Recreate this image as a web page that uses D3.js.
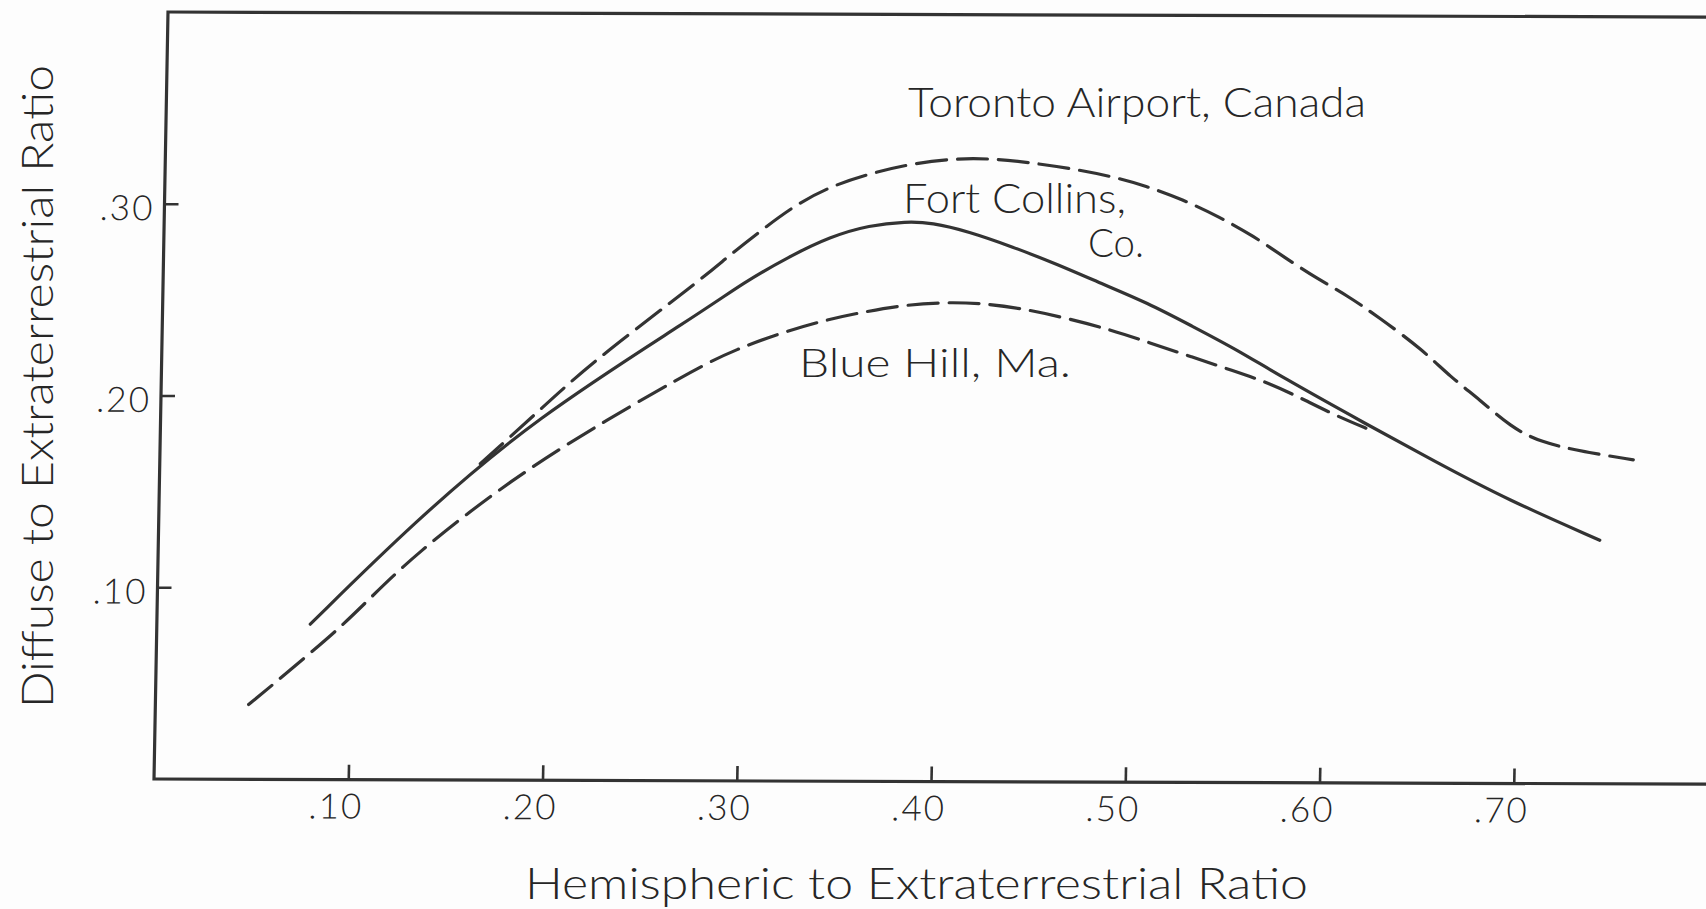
<!DOCTYPE html>
<html>
<head>
<meta charset="utf-8">
<script src="https://cdn.jsdelivr.net/npm/d3@7"></script>
<style>
  html, body { margin: 0; padding: 0; background: #fdfdfd; }
  svg { display: block; }
  text { font-family: Lato, "Open Sans", "DejaVu Sans", sans-serif; font-weight: 300; fill: #262626; }
</style>
</head>
<body>
<svg id="chart" width="1706" height="909"></svg>
<script>
// ---------------- data ----------------
const xTicks = [0.10, 0.20, 0.30, 0.40, 0.50, 0.60, 0.70];
const xTickLabels = [".10", ".20", ".30", ".40", ".50", ".60", ".70"];
const yTicks = [0.10, 0.20, 0.30];
const yTickLabels = [".10", ".20", ".30"];

const seriesNames = ["Toronto Airport, Canada", "Fort Collins, Co.", "Blue Hill, Ma."];

const torontoX = [0.165, 0.192, 0.220, 0.2765, 0.290, 0.306, 0.324, 0.342, 0.363, 0.383, 0.406, 0.425, 0.445, 0.466, 0.487, 0.505, 0.524, 0.543, 0.561, 0.577, 0.594, 0.610, 0.626, 0.649, 0.6635, 0.679, 0.695, 0.7105, 0.733, 0.7585];
const torontoY = [0.165, 0.190, 0.217, 0.261, 0.273, 0.286, 0.300, 0.310, 0.317, 0.322, 0.325, 0.325, 0.323, 0.320, 0.316, 0.311, 0.304, 0.295, 0.285, 0.274, 0.263, 0.254, 0.243, 0.226, 0.212, 0.200, 0.186, 0.178, 0.173, 0.169];

const fortCollinsX = [0.079, 0.131, 0.192, 0.277, 0.299, 0.322, 0.343, 0.363, 0.382, 0.395, 0.414, 0.437, 0.460, 0.483, 0.507, 0.530, 0.553, 0.576, 0.621, 0.656, 0.694, 0.742];
const fortCollinsY = [0.081, 0.134, 0.1885, 0.244, 0.260, 0.2735, 0.284, 0.290, 0.292, 0.2915, 0.287, 0.279, 0.270, 0.260, 0.250, 0.238, 0.226, 0.212, 0.187, 0.168, 0.148, 0.127];

const blueHillX = [0.048, 0.061, 0.077, 0.093, 0.108, 0.1315, 0.181, 0.231, 0.277, 0.2955, 0.318, 0.341, 0.362, 0.382, 0.403, 0.4215, 0.442, 0.465, 0.488, 0.509, 0.530, 0.551, 0.5715, 0.590, 0.604, 0.623];
const blueHillY = [0.039, 0.050, 0.064, 0.078, 0.093, 0.117, 0.157, 0.189, 0.216, 0.225, 0.2335, 0.2405, 0.245, 0.2485, 0.250, 0.2495, 0.247, 0.242, 0.236, 0.229, 0.222, 0.215, 0.208, 0.199, 0.192, 0.184];

// ---------------- layout ----------------
const svg = d3.select("#chart");
const W = 1554, H = 767;
const ink = "#333";

const x = d3.scaleLinear().domain([0, 0.8]).range([0, W]);
const y = d3.scaleLinear().domain([0, 0.4]).range([H, 0]);

// slight skew of the scanned original
const g = svg.append("g").attr("transform", "matrix(1,0.0033,-0.01825,1,168,12)");

// frame
g.append("rect")
  .attr("x", 0).attr("y", 0).attr("width", W).attr("height", H)
  .attr("fill", "none").attr("stroke", ink).attr("stroke-width", 3.2);

// axes
const yAxis = d3.axisLeft(y).tickValues(yTicks).tickSize(-14)
  .tickFormat((d, i) => yTickLabels[i]);
const ya = g.append("g").call(yAxis);
ya.select(".domain").remove();
ya.selectAll(".tick line").attr("stroke", ink).attr("stroke-width", 2.6);
ya.selectAll(".tick text")
  .attr("x", -10).attr("dy", 0).attr("y", 16)
  .attr("text-anchor", "end")
  .style("font-size", "35px").style("letter-spacing", "2px").style("font-weight", 300)
  .style("font-family", "Lato, 'Open Sans', sans-serif").attr("fill", "#262626");

const xAxis = d3.axisBottom(x).tickValues(xTicks).tickSize(-15)
  .tickFormat((d, i) => xTickLabels[i]);
const xa = g.append("g").attr("transform", `translate(0,${H})`).call(xAxis);
xa.select(".domain").remove();
xa.selectAll(".tick line").attr("stroke", ink).attr("stroke-width", 2.6);
xa.selectAll(".tick text")
  .attr("x", 15).attr("dy", 0).attr("y", 39)
  .attr("text-anchor", "end")
  .style("font-size", "35px").style("letter-spacing", "2px").style("font-weight", 300)
  .style("font-family", "Lato, 'Open Sans', sans-serif").attr("fill", "#262626");

// curves
const line = d3.line().x(d => x(d[0])).y(d => y(d[1])).curve(d3.curveBasis);
const series = [
  { xs: torontoX, ys: torontoY, dash: "30 11" },
  { xs: fortCollinsX, ys: fortCollinsY, dash: null },
  { xs: blueHillX, ys: blueHillY, dash: "30 11" }
];
series.forEach(s => {
  const pts = s.xs.map((v, i) => [v, s.ys[i]]);
  g.append("path").datum(pts)
    .attr("d", line)
    .attr("fill", "none")
    .attr("stroke", ink)
    .attr("stroke-width", 3.2)
    .attr("stroke-linecap", "round")
    .attr("stroke-dasharray", s.dash);
});

// annotations (screen coordinates)
function label(txt, px, py, size, len) {
  svg.append("text").attr("x", px).attr("y", py)
    .attr("textLength", len).attr("lengthAdjust", "spacingAndGlyphs")
    .style("font-size", size + "px").text(txt);
}
label("Toronto Airport, Canada", 908, 117, 41, 458);
label("Fort Collins,", 903, 213, 41, 223);
label("Co.", 1088, 257, 39, 56);
label("Blue Hill, Ma.", 799, 377, 40, 272);

// axis titles
svg.append("text").attr("x", 525).attr("y", 899)
  .attr("textLength", 783).attr("lengthAdjust", "spacingAndGlyphs")
  .style("font-size", "44px").text("Hemispheric to Extraterrestrial Ratio");

svg.append("text").attr("transform", "translate(53,708) rotate(-90)")
  .attr("x", 0).attr("y", 0)
  .attr("textLength", 643).attr("lengthAdjust", "spacingAndGlyphs")
  .style("font-size", "43px").text("Diffuse to Extraterrestrial Ratio");
</script>
</body>
</html>
